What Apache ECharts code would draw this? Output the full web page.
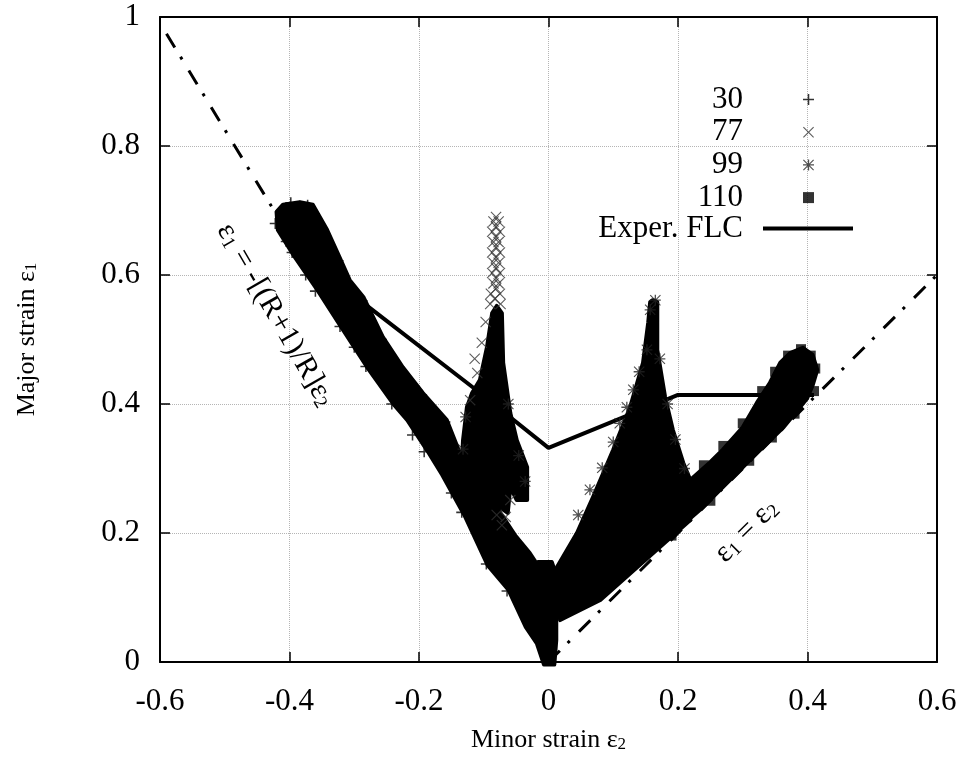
<!DOCTYPE html>
<html>
<head>
<meta charset="utf-8">
<script src="https://cdn.jsdelivr.net/npm/echarts@6/dist/echarts.min.js"></script>
<style>
  html, body { margin: 0; background: #fff; }
  #box { width: 966px; height: 762px; }
</style>
</head>
<body>
<div id="box"></div>
<script>
// 坐标轴范围
var xMin = -0.6, xMax = 0.6, yMin = 0, yMax = 1, tickStep = 0.2;

// 点云轮廓
var band30 = [
  [-0.410, 0.709], [-0.384, 0.713], [-0.364, 0.709], [-0.342, 0.670], [-0.322, 0.626],
  [-0.307, 0.592], [-0.286, 0.566], [-0.256, 0.504], [-0.225, 0.457], [-0.194, 0.417],
  [-0.157, 0.375], [-0.137, 0.324], [-0.098, 0.267], [-0.067, 0.220], [-0.052, 0.197],
  [-0.029, 0.169], [-0.014, 0.146], [-0.016, 0.155], [0.005, 0.155], [0.012, 0.135],
  [0.012, 0.034], [0.009, -0.004], [-0.007, -0.004], [-0.018, 0.029], [-0.035, 0.054],
  [-0.062, 0.112], [-0.094, 0.150], [-0.130, 0.228], [-0.164, 0.290], [-0.188, 0.329],
  [-0.218, 0.375], [-0.238, 0.398], [-0.280, 0.457], [-0.320, 0.519], [-0.357, 0.577],
  [-0.392, 0.628], [-0.418, 0.670], [-0.420, 0.698]
];
var spike99a = [
  [-0.134, 0.302], [-0.132, 0.344], [-0.126, 0.395], [-0.118, 0.417], [-0.106, 0.437],
  [-0.095, 0.488], [-0.087, 0.541], [-0.080, 0.552], [-0.072, 0.541], [-0.070, 0.464],
  [-0.059, 0.386], [-0.049, 0.344], [-0.033, 0.302], [-0.033, 0.251], [-0.049, 0.251],
  [-0.059, 0.271], [-0.063, 0.231], [-0.090, 0.251]
];
var spike99b = [
  [0.013, 0.147], [0.044, 0.200], [0.069, 0.256], [0.100, 0.329], [0.126, 0.395],
  [0.146, 0.464], [0.154, 0.526], [0.157, 0.558], [0.161, 0.561], [0.168, 0.558],
  [0.168, 0.484], [0.180, 0.411], [0.192, 0.360], [0.208, 0.309], [0.219, 0.282],
  [0.219, 0.220], [0.080, 0.096], [0.018, 0.065]
];
var band110 = [
  [0.219, 0.282], [0.249, 0.309], [0.269, 0.329], [0.300, 0.364], [0.322, 0.402],
  [0.342, 0.433], [0.358, 0.464], [0.373, 0.479], [0.393, 0.487], [0.408, 0.476],
  [0.415, 0.453], [0.408, 0.429], [0.399, 0.408], [0.362, 0.363], [0.327, 0.329],
  [0.296, 0.298], [0.265, 0.267], [0.234, 0.236], [0.203, 0.209], [0.157, 0.177],
  [0.106, 0.143], [0.053, 0.109], [0.018, 0.078], [0.007, 0.054], [0.012, 0.120],
  [0.060, 0.170], [0.150, 0.240]
];

// 边缘上可见的单个标记
var plus30 = [
  [-0.412, 0.700], [-0.398, 0.712], [-0.372, 0.708], [-0.422, 0.680], [-0.396, 0.635],
  [-0.360, 0.575], [-0.322, 0.520], [-0.282, 0.458], [-0.242, 0.400], [-0.192, 0.326],
  [-0.134, 0.232], [-0.096, 0.152], [-0.064, 0.110], [-0.345, 0.660], [-0.325, 0.622],
  [-0.288, 0.560], [-0.258, 0.500], [-0.228, 0.452], [-0.196, 0.414], [-0.160, 0.372],
  [-0.405, 0.652], [-0.375, 0.600], [-0.300, 0.488], [-0.210, 0.352], [-0.150, 0.262]
];
var cross77 = [
  [-0.081, 0.690], [-0.085, 0.683], [-0.077, 0.683], [-0.081, 0.675], [-0.087, 0.667],
  [-0.075, 0.667], [-0.081, 0.659], [-0.085, 0.651], [-0.077, 0.651], [-0.081, 0.643],
  [-0.087, 0.635], [-0.075, 0.635], [-0.081, 0.627], [-0.085, 0.619], [-0.077, 0.619],
  [-0.081, 0.611], [-0.087, 0.603], [-0.075, 0.603], [-0.081, 0.595], [-0.085, 0.587],
  [-0.077, 0.587], [-0.081, 0.579], [-0.089, 0.571], [-0.075, 0.571], [-0.083, 0.563],
  [-0.090, 0.555], [-0.074, 0.555],
  [-0.110, 0.448], [-0.103, 0.495], [-0.097, 0.527], [-0.121, 0.406], [-0.114, 0.470],
  [-0.080, 0.228], [-0.072, 0.212], [-0.066, 0.225], [-0.059, 0.251]
];
var star99 = [
  [0.083, 0.301], [0.100, 0.341], [0.121, 0.395], [0.131, 0.422], [0.152, 0.484],
  [0.157, 0.546], [0.165, 0.561], [0.064, 0.267], [0.046, 0.228], [0.110, 0.370],
  [0.140, 0.450], [0.172, 0.470], [0.184, 0.400], [0.196, 0.345], [0.210, 0.300],
  [-0.132, 0.330], [-0.128, 0.380], [-0.036, 0.280], [-0.046, 0.320], [-0.062, 0.400]
];
var square110 = [
  [0.390, 0.485], [0.405, 0.475], [0.412, 0.455], [0.370, 0.475], [0.350, 0.450],
  [0.330, 0.420], [0.300, 0.370], [0.270, 0.335], [0.240, 0.305], [0.410, 0.420],
  [0.380, 0.385], [0.345, 0.348], [0.310, 0.312], [0.250, 0.250], [0.190, 0.196]
];

// 实验 FLC 曲线
var flcX = [-0.29, -0.117, 0.0, 0.2, 0.41];
var flcY = [0.56, 0.426, 0.332, 0.414, 0.414];

// 两条参考直线
var refLeft = [[-0.59, 0.974], [-0.41, 0.677]];
var refRight = [[0, 0], [0.6, 0.6]];

// 注释文字的锚点
var noteAnchors = [[-0.422, 0.538], [0.306, 0.203]];

var serif = "Liberation Serif";
var plusPath = "path://M4.3,0H5.7V10H4.3Z M0,4.3H10V5.7H0Z";
var crossPath = "path://M0.7,0L5,4.3L9.3,0L10,0.7L5.7,5L10,9.3L9.3,10L5,5.7L0.7,10L0,9.3L4.3,5L0,0.7Z";
var starPath = "path://M4.4,0H5.6V10H4.4Z M0,4.4H10V5.6H0Z M0.7,0L5,4.3L9.3,0L10,0.7L5.7,5L10,9.3L9.3,10L5,5.7L0.7,10L0,9.3L4.3,5L0,0.7Z";

function polyRender(shapes) {
  return function (params, api) {
    if (params.dataIndex !== 0) return null;
    return {
      type: "group",
      children: shapes.map(function (s) {
        return {
          type: "polygon",
          shape: { points: s.map(function (p) { return api.coord(p); }) },
          style: { fill: "#000", stroke: "#000", lineWidth: 4, lineJoin: "round" }
        };
      })
    };
  };
}

var subRich = {
  e: { fontSize: 30, fontFamily: serif, color: "#000" },
  s: { fontSize: 19, fontFamily: serif, color: "#000", lineHeight: 12, verticalAlign: "bottom" }
};
var noteTexts = ["{e|ε}{s|1}{e| = -[(R+1)/R]ε}{s|2}", "{e|ε}{s|1}{e| = ε}{s|2}"];
var noteAngles = [-Math.PI / 3, Math.PI / 4];

var myChart = echarts.init(document.getElementById("box"));

var axisCommon = {
  type: "value",
  axisLine: { show: true, onZero: false, lineStyle: { color: "#000", width: 2 } },
  axisTick: { show: true, inside: true, length: 10, lineStyle: { color: "#000", width: 1.5 } }
};

myChart.setOption({
  animation: false,
  backgroundColor: "#fff",
  textStyle: { fontFamily: serif },
  grid: { left: 160, right: 29, top: 17, bottom: 100, outerBoundsMode: "none" },
  legend: [
    {
      data: [
        { name: "30", icon: plusPath },
        { name: "77", icon: crossPath },
        { name: "99", icon: starPath },
        { name: "110", icon: "rect" }
      ],
      orient: "vertical",
      align: "right",
      right: 152,
      top: 84,
      padding: 0,
      itemGap: 1.7,
      itemWidth: 11,
      itemHeight: 11,
      selectedMode: false,
      textStyle: { fontFamily: serif, fontSize: 31, lineHeight: 31, color: "#000", padding: [0, 55, 0, 0] }
    },
    {
      data: [{ name: "Exper. FLC", icon: "rect" }],
      orient: "vertical",
      align: "right",
      right: 113,
      top: 213,
      padding: 0,
      itemWidth: 90,
      itemHeight: 4,
      selectedMode: false,
      itemStyle: { color: "#000" },
      textStyle: { fontFamily: serif, fontSize: 31, lineHeight: 31, color: "#000", padding: [0, 15, 0, 0] }
    }
  ],
  xAxis: [
    Object.assign({}, axisCommon, {
      position: "bottom",
      min: xMin, max: xMax, interval: tickStep,
      axisLabel: { margin: 24, fontFamily: serif, fontSize: 31, color: "#000" },
      splitLine: { show: true, lineStyle: { type: "dotted", color: "#b5b5b5", width: 1 } },
      name: "{e|Minor strain ε}{s|2}",
      nameLocation: "middle",
      nameGap: 78,
      nameTextStyle: {
        verticalAlign: "middle",
        rich: {
          e: { fontSize: 26, fontFamily: serif, color: "#000" },
          s: { fontSize: 17, fontFamily: serif, color: "#000", lineHeight: 10, verticalAlign: "bottom" }
        }
      }
    }),
    Object.assign({}, axisCommon, {
      position: "top",
      min: xMin, max: xMax, interval: tickStep,
      axisLabel: { show: false },
      splitLine: { show: false }
    })
  ],
  yAxis: [
    Object.assign({}, axisCommon, {
      position: "left",
      min: yMin, max: yMax, interval: tickStep,
      axisLabel: { margin: 20, fontFamily: serif, fontSize: 31, color: "#000" },
      splitLine: { show: true, lineStyle: { type: "dotted", color: "#b5b5b5", width: 1 } },
      name: "{e|Major strain ε}{s|1}",
      nameLocation: "middle",
      nameGap: 133,
      nameTextStyle: {
        verticalAlign: "middle",
        rich: {
          e: { fontSize: 26, fontFamily: serif, color: "#000" },
          s: { fontSize: 17, fontFamily: serif, color: "#000", lineHeight: 10, verticalAlign: "bottom" }
        }
      }
    }),
    Object.assign({}, axisCommon, {
      position: "right",
      min: yMin, max: yMax, interval: tickStep,
      axisLabel: { show: false },
      splitLine: { show: false }
    })
  ],
  series: [
    // 标记放在前面，图例图标取自它们
    { name: "30", type: "scatter", z: 5, symbol: plusPath, symbolSize: 11, itemStyle: { color: "#000" }, data: plus30 },
    { name: "77", type: "scatter", z: 5, symbol: crossPath, symbolSize: 11, itemStyle: { color: "#333" }, data: cross77 },
    { name: "99", type: "scatter", z: 5, symbol: starPath, symbolSize: 11, itemStyle: { color: "#222" }, data: star99 },
    { name: "110", type: "scatter", z: 5, symbol: "rect", symbolSize: 10, itemStyle: { color: "#000" }, data: square110 },
    // 参考线
    {
      type: "line", z: 2, silent: true, symbol: "none", data: refLeft,
      lineStyle: { color: "#000", width: 3, type: [16, 11, 3, 13] }
    },
    {
      type: "line", z: 2, silent: true, symbol: "none", data: refRight,
      lineStyle: { color: "#000", width: 3, type: [16, 11, 3, 13] }
    },
    // 点云区域
    { name: "30", type: "custom", z: 3, renderItem: polyRender([band30]), data: band30, encode: { x: 0, y: 1 } },
    { name: "99", type: "custom", z: 3, renderItem: polyRender([spike99a, spike99b]), data: spike99a.concat(spike99b), encode: { x: 0, y: 1 } },
    { name: "110", type: "custom", z: 3, renderItem: polyRender([band110]), data: band110, encode: { x: 0, y: 1 } },
    // 实验 FLC
    {
      name: "Exper. FLC", type: "line", z: 4, symbol: "none",
      itemStyle: { color: "#000" },
      lineStyle: { color: "#000", width: 4 },
      data: flcX.map(function (x, i) { return [x, flcY[i]]; })
    },
    // 注释
    {
      type: "custom", z: 6, silent: true,
      data: noteAnchors,
      encode: { x: 0, y: 1 },
      renderItem: function (params, api) {
        var p = api.coord([api.value(0), api.value(1)]);
        return {
          type: "text",
          x: p[0], y: p[1],
          rotation: noteAngles[params.dataIndex],
          style: {
            text: noteTexts[params.dataIndex],
            rich: subRich,
            align: "center",
            verticalAlign: "middle"
          }
        };
      }
    }
  ]
});
</script>
</body>
</html>
